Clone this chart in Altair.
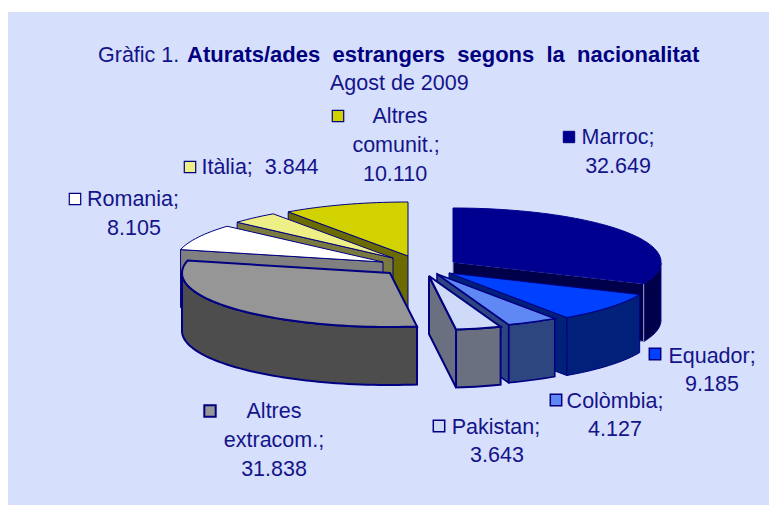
import math
import altair as alt
import pandas as pd

# ---- data ----
categories = ["Marroc", "Equador", "Colòmbia", "Pakistan", "Altres extracom.", "Romania", "Itàlia", "Altres comunit."]
values = [32649, 9185, 4127, 3643, 31838, 8105, 3844, 10110]

# ---- styling, per slice ----
top_colors = ["#000090", "#0040FF", "#6088F5", "#CFDAF8", "#969696", "#FFFFFF", "#EFEF88", "#D2D200"]
wall_colors = ["#00004A", "#00207A", "#2E4680", "#6B7080", "#4D4D4D", "#808080", "#7A7A40", "#6B6B00"]
edge_widths = [1, 1, 1.6, 2, 2, 1, 1, 1]
# slice apex in page pixels (how far each slice was pulled out of the pie)
apex_x = [453, 449, 437, 429, 390, 383, 393, 408]
apex_y = [262, 273, 274, 276, 273, 262, 258, 256]
RX, RY, DEPTH = 208, 54, 58
EDGE = "#000080"
TEXT = "#14148A"
FONT = "Liberation Sans"
OX, OY = 8, 12  # page position of the panel
draw_order = [7, 6, 5, 4, 0, 1, 2, 3]


def rim(i, a):
    return (apex_x[i] + RX * math.sin(a), apex_y[i] - RY * math.cos(a))


def pt(p, drop=0):
    return [p[0] - OX, p[1] - OY + drop]


total = sum(values)
edges = [0.0]
for v in values:
    edges.append(edges[-1] + v / total * 2 * math.pi)


def feature(ring, fill, stroke, width):
    return {
        "type": "Feature",
        "properties": {"fill": fill, "stroke": stroke, "sw": width},
        "geometry": {"type": "Polygon", "coordinates": [ring + [ring[0]]]},
    }


features = []
for i in draw_order:
    a0, a1 = edges[i], edges[i + 1]
    n = max(3, int((a1 - a0) / 0.03))
    angs = [a0 + (a1 - a0) * k / n for k in range(n + 1)]
    apex = (apex_x[i], apex_y[i])
    sw = edge_widths[i]
    stroke = EDGE
    # outer wall: only the part of the rim that faces the viewer
    front = [a for a in angs if math.cos(a) < 0]
    if len(front) > 1:
        ring = [pt(rim(i, a)) for a in front] + [pt(rim(i, a), DEPTH) for a in reversed(front)]
        features.append(feature(ring, wall_colors[i], stroke, sw))
    # flat cut faces that face the viewer
    for a, sign in ((a0, -1), (a1, 1)):
        normal = a + sign * math.pi / 2
        if math.cos(normal) < -0.01:
            p = rim(i, a)
            ring = [pt(apex), pt(p), pt(p, DEPTH), pt(apex, DEPTH)]
            features.append(feature(ring, wall_colors[i], "#9AA3D8" if i == 0 else stroke, 1 if i == 0 else sw))
    # top face
    ring = [pt(apex)] + [pt(rim(i, a)) for a in angs]
    features.append(feature(ring, top_colors[i], top_colors[i] if i == 0 else stroke, sw))

projection = alt.Projection(type="identity", scale=1, translate=[0, 0])
pie = (
    alt.Chart(alt.Data(values=features))
    .mark_geoshape()
    .encode(
        fill=alt.Fill("properties.fill:N", scale=None),
        stroke=alt.Stroke("properties.stroke:N", scale=None),
        strokeWidth=alt.StrokeWidth("properties.sw:Q", scale=None),
    )
    .project(**projection.to_dict())
)

# ---- labels ----
label_text = ["Altres", "comunit.;", "10.110", "Marroc;", "32.649", "Itàlia;\u00a0\u00a03.844", "Romania;", "8.105",
              "Altres", "extracom.;", "31.838", "Pakistan;", "3.643", "Colòmbia;", "4.127", "Equador;", "9.185"]
label_x = [400, 396, 395, 618, 618, 260, 133, 134, 274, 274, 274, 496, 497, 615, 615, 712, 712]
label_y = [123, 152, 181, 144, 173, 174, 206, 235, 418, 447, 476, 434, 462, 408, 436, 363, 391]
labels = pd.DataFrame({"t": label_text, "x": [v - OX for v in label_x], "y": [v - OY for v in label_y]})
label_marks = alt.Chart(labels).mark_text(
    font=FONT, fontSize=21.5, color=TEXT, align="center", baseline="alphabetic"
).encode(x=alt.X("x:Q", scale=None, axis=None), y=alt.Y("y:Q", scale=None, axis=None), text="t:N")

key_x = [569, 655, 556, 439, 210, 75, 190, 338]
key_y = [137, 354, 400, 426, 411, 199, 167, 116]
keys = pd.DataFrame({"x": [v - OX for v in key_x], "y": [v - OY for v in key_y], "c": top_colors,
                     "s": [1, 1.5, 1.5, 1.5, 2, 1.2, 1.2, 1.2]})
key_marks = alt.Chart(keys).mark_square(size=130, opacity=1).encode(
    x=alt.X("x:Q", scale=None, axis=None), y=alt.Y("y:Q", scale=None, axis=None),
    fill=alt.Fill("c:N", scale=None), stroke=alt.value(EDGE), strokeWidth=alt.StrokeWidth("s:Q", scale=None),
)

title_rows = pd.DataFrame({
    "t": ["Gràfic 1.", "Aturats/ades\u00a0\u00a0estrangers\u00a0\u00a0segons\u00a0\u00a0la\u00a0\u00a0nacionalitat", "Agost de 2009"],
    "x": [98 - OX, 187 - OX, 330 - OX], "y": [62 - OY, 62 - OY, 90 - OY], "b": ["normal", "bold", "normal"],
})
title_plain = alt.Chart(title_rows[title_rows.b == "normal"]).mark_text(
    font=FONT, fontSize=21.5, color=TEXT, align="left", baseline="alphabetic"
).encode(x=alt.X("x:Q", scale=None, axis=None), y=alt.Y("y:Q", scale=None, axis=None), text="t:N")
title_bold = alt.Chart(title_rows[title_rows.b == "bold"]).mark_text(
    font=FONT, fontSize=22, fontWeight="bold", color=EDGE, align="left", baseline="alphabetic"
).encode(x=alt.X("x:Q", scale=None, axis=None), y=alt.Y("y:Q", scale=None, axis=None), text="t:N")

chart = (
    alt.layer(pie, key_marks, label_marks, title_plain, title_bold)
    .properties(width=761, height=493, padding={"left": 0, "top": 4, "right": 0, "bottom": 0},
                background="white", autosize=alt.AutoSizeParams(type="none"))
    .configure_view(fill="#D6DFFB", stroke=None)
)
chart.save("out.html", embed_options={"renderer": "svg", "actions": False})
